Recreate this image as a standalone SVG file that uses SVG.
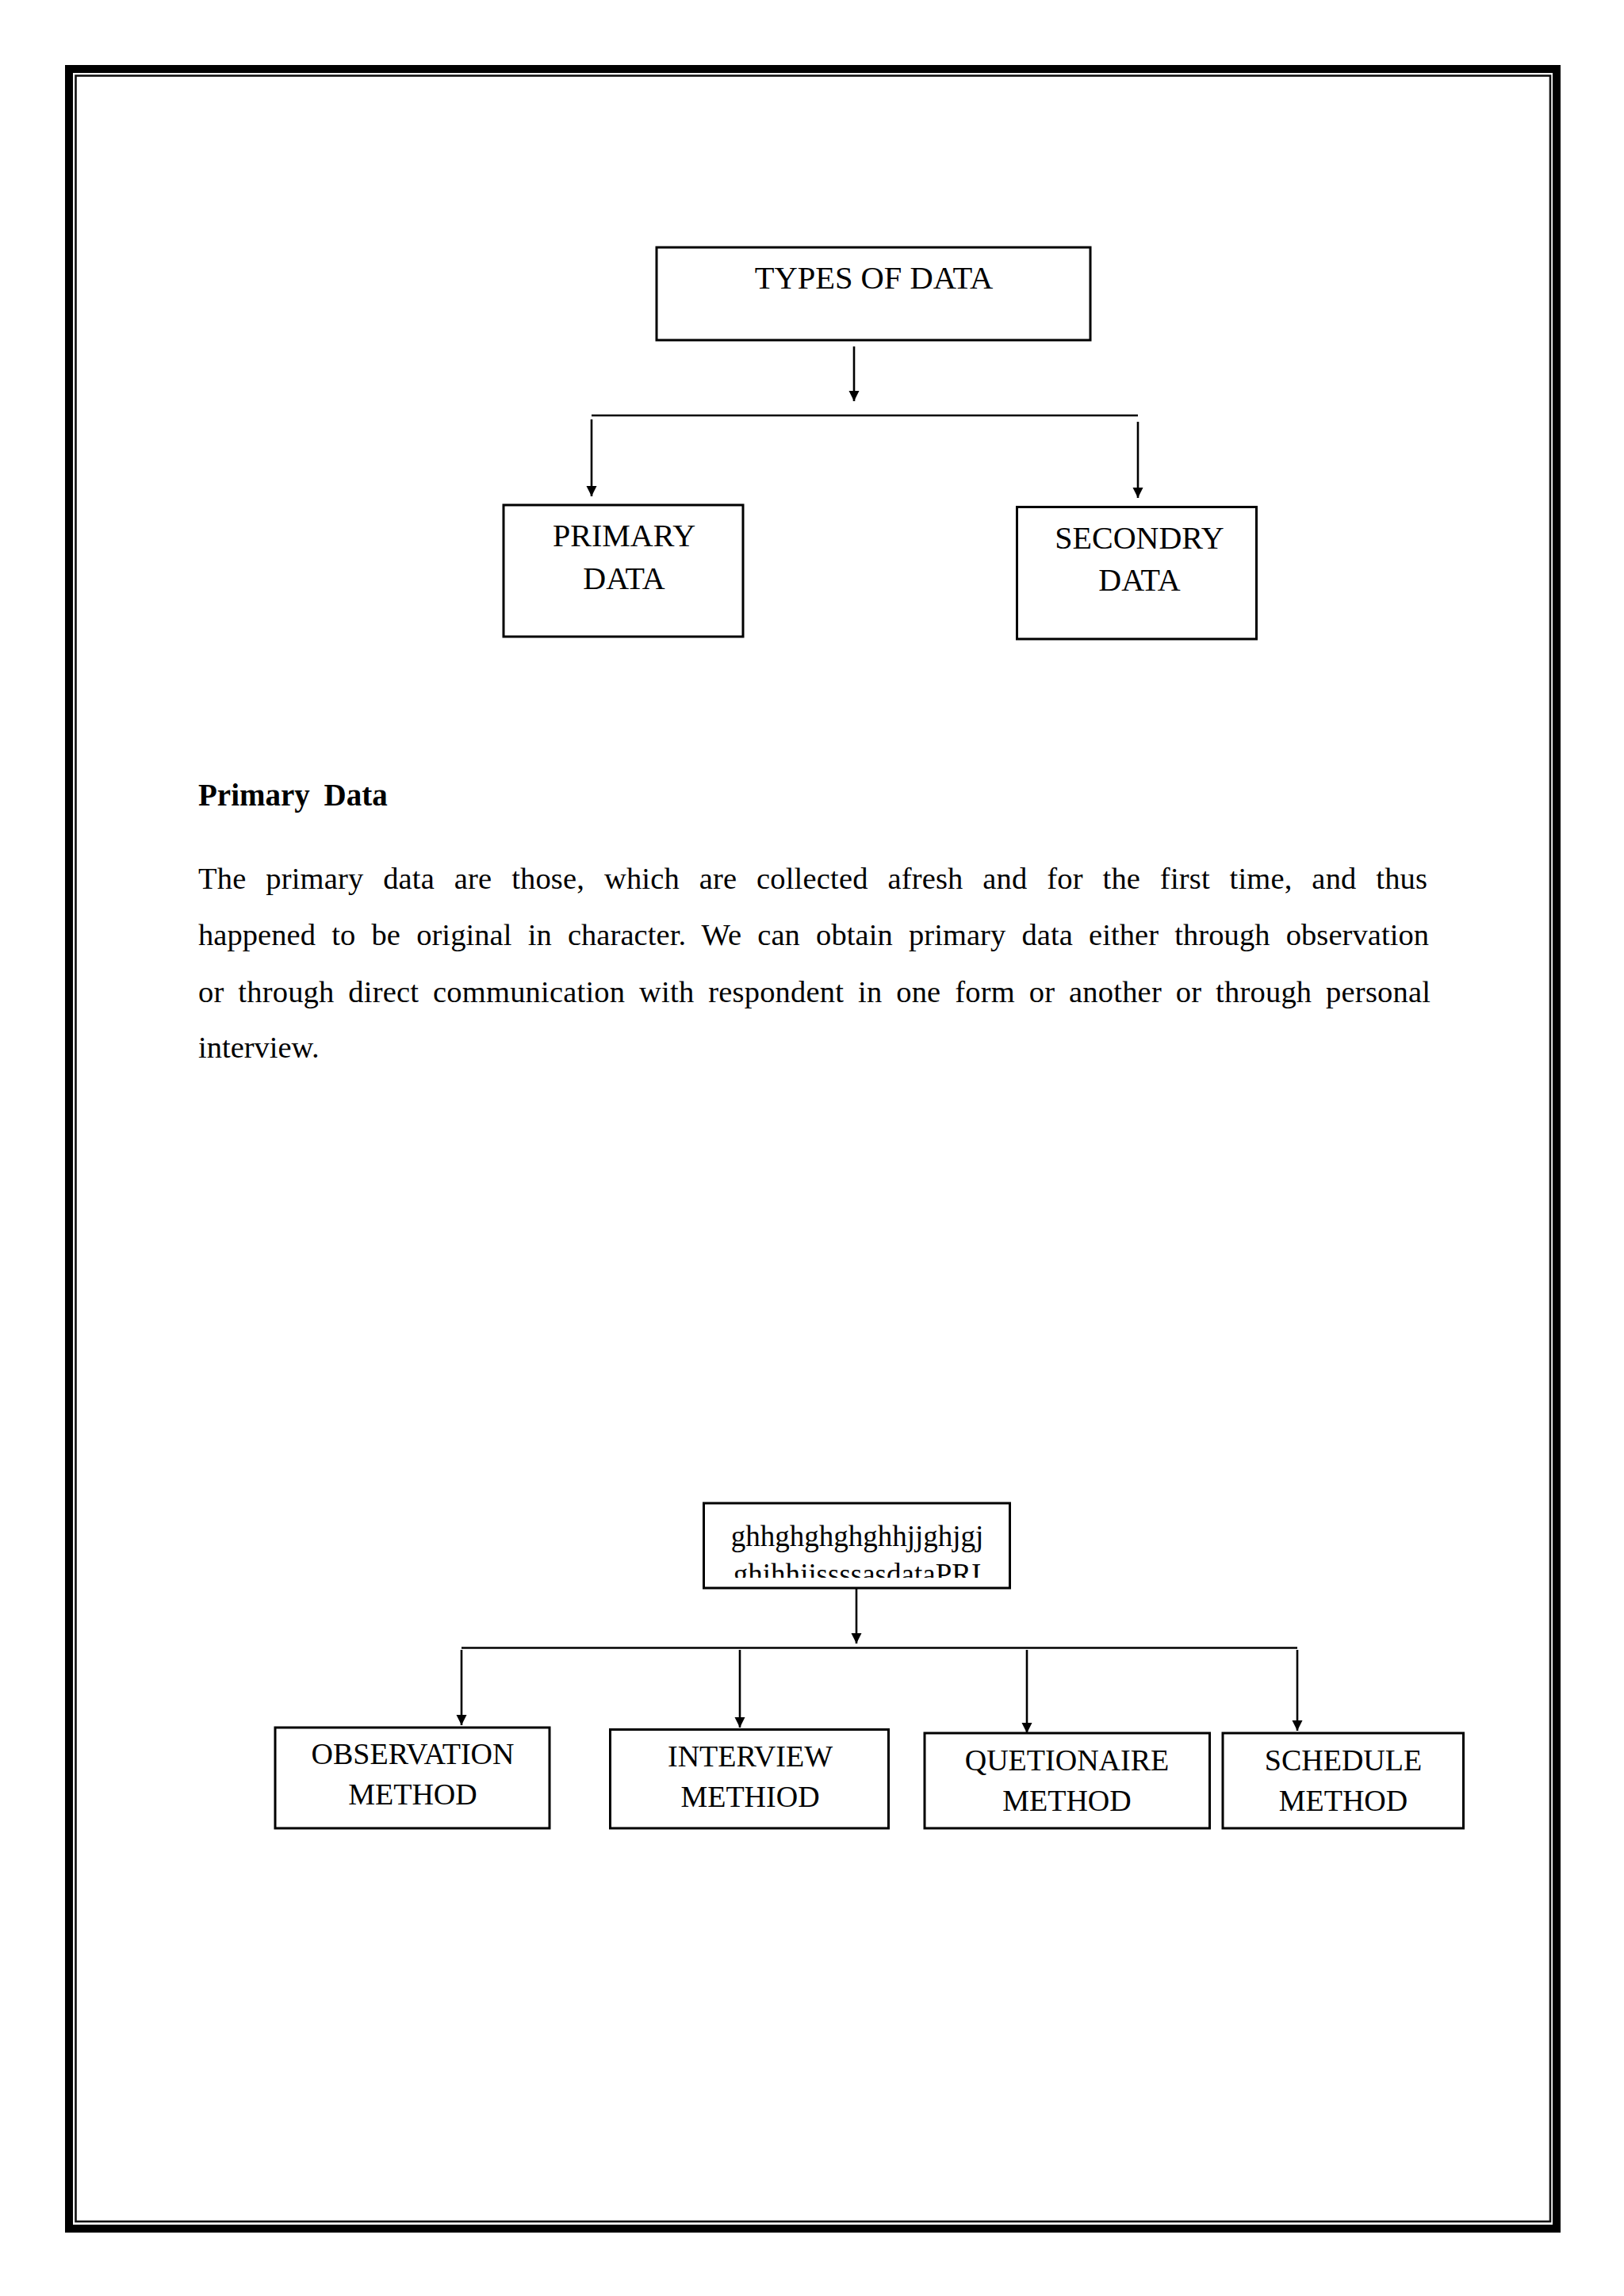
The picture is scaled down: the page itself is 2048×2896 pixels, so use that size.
<svg xmlns="http://www.w3.org/2000/svg" width="2048" height="2896" viewBox="0 0 2048 2896">
<style>
.box{fill:#fff;stroke:#000;stroke-width:3}
.lbl{font-family:"Liberation Serif","Times New Roman",serif;fill:#000;text-anchor:middle}
.l1{font-size:40px}
.l2{font-size:38px}
.con{fill:none;stroke:#000;stroke-width:2.6}
.arr{marker-end:url(#ah)}
.para{font-family:"Liberation Serif","Times New Roman",serif;font-size:38.5px;fill:#000}
.head{font-family:"Liberation Serif","Times New Roman",serif;font-size:39px;font-weight:bold;fill:#000}
</style>
<defs>
<marker id="ah" markerUnits="userSpaceOnUse" markerWidth="14" markerHeight="14" refX="13" refY="6.5" orient="auto">
<path d="M0,0 L13,6.5 L0,13 z" fill="#000"/>
</marker>
<clipPath id="clipTop2"><rect x="890" y="1898" width="381" height="92"/></clipPath>
</defs>
<rect width="2048" height="2896" fill="#fff"/>
<g id="frame">
<rect x="87" y="87" width="1876" height="2724" fill="none" stroke="#000" stroke-width="10"/>
<rect x="95.5" y="95.5" width="1859.5" height="2706.5" fill="none" stroke="#111" stroke-width="2.6"/>
</g>
<g id="connectors">
<path class="con arr" d="M1077,437 V506"/>
<path class="con" d="M746,524 H1435"/>
<path class="con arr" d="M746,529 V626"/>
<path class="con arr" d="M1435,532 V628"/>
<path class="con arr" d="M1080,2004 V2073"/>
<path class="con" d="M582,2078.5 H1636"/>
<path class="con arr" d="M582,2081 V2176"/>
<path class="con arr" d="M933,2081 V2179"/>
<path class="con arr" d="M1295,2081 V2186"/>
<path class="con arr" d="M1636,2081 V2183"/>
</g>
<g id="node-types">
<rect class="box" x="828" y="312" width="547" height="117"/>
<text class="lbl" x="1102" y="364" style="font-size:40.5px">TYPES OF DATA</text>
</g>
<g id="node-primary">
<rect class="box" x="635" y="637" width="302" height="166"/>
<text class="lbl l1" x="787" y="689">PRIMARY</text>
<text class="lbl l1" x="787" y="743">DATA</text>
</g>
<g id="node-secondry">
<rect class="box" x="1282.5" y="639.5" width="302" height="166.5"/>
<text class="lbl l1" x="1437" y="692">SECONDRY</text>
<text class="lbl l1" x="1437" y="745">DATA</text>
</g>
<g id="text-primary-data">
<text class="head" x="250" y="1016">Primary<tspan x="408.6">Data</tspan></text>
<text class="para" x="250" y="1121" style="word-spacing:15px" textLength="1550" lengthAdjust="spacing">The primary data are those, which are collected afresh and for the first time, and thus</text>
<text class="para" x="250" y="1192" style="word-spacing:10.5px" textLength="1552" lengthAdjust="spacing">happened to be original in character. We can obtain primary data either through observation</text>
<text class="para" x="250" y="1263.5" style="word-spacing:8px" textLength="1554" lengthAdjust="spacing">or through direct communication with respondent in one form or another or through personal</text>
<text class="para" x="250" y="1334">interview.</text>
</g>
<g id="node-top2">
<rect class="box" x="887.5" y="1896" width="386" height="107"/>
<g clip-path="url(#clipTop2)">
<text class="lbl" x="1081" y="1950" style="font-size:37px">ghhghghghghhjjghjgj</text>
<text class="lbl" x="1081" y="1998" style="font-size:37px">ghihhjjssssasdataPRI</text>
</g>
</g>
<g id="node-observation">
<rect class="box" x="347" y="2179" width="346" height="127"/>
<text class="lbl l2" x="520.5" y="2225">OBSERVATION</text>
<text class="lbl l2" x="520.5" y="2276">METHOD</text>
</g>
<g id="node-interview">
<rect class="box" x="769.5" y="2181.5" width="351" height="124.5"/>
<text class="lbl l2" x="946" y="2228">INTERVIEW</text>
<text class="lbl l2" x="946" y="2279">METHIOD</text>
</g>
<g id="node-quetionaire">
<rect class="box" x="1166" y="2186" width="359.5" height="120"/>
<text class="lbl l2" x="1345.5" y="2233">QUETIONAIRE</text>
<text class="lbl l2" x="1345.5" y="2284">METHOD</text>
</g>
<g id="node-schedule">
<rect class="box" x="1542" y="2186" width="303.5" height="120"/>
<text class="lbl l2" x="1694" y="2233">SCHEDULE</text>
<text class="lbl l2" x="1694" y="2284">METHOD</text>
</g>
</svg>
